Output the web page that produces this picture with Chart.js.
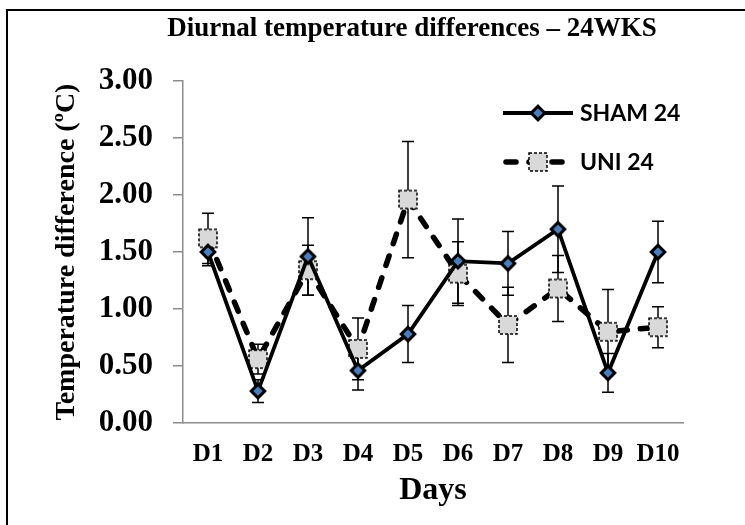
<!DOCTYPE html>
<html>
<head>
<meta charset="utf-8">
<title>Diurnal temperature differences – 24WKS</title>
<script src="https://cdn.jsdelivr.net/npm/chart.js@4.4.1/dist/chart.umd.min.js"></script>
<style>
  html, body { margin: 0; padding: 0; background: #fff; }
  .chart-box { width: 745px; height: 525px; }
</style>
</head>
<body>
<div class="chart-box"><canvas id="chart"></canvas></div>
<script>
const days = ["D1", "D2", "D3", "D4", "D5", "D6", "D7", "D8", "D9", "D10"];

const sham24 = [1.50, 0.28, 1.46, 0.46, 0.78, 1.42, 1.40, 1.70, 0.44, 1.50];
const sham24Err = [0.12, 0.10, 0.34, 0.17, 0.25, 0.37, 0.28, 0.38, 0.17, 0.27];

const uni24 = [1.62, 0.56, 1.34, 0.65, 1.96, 1.31, 0.86, 1.18, 0.80, 0.84];
const uni24Err = [0.22, 0.13, 0.22, 0.27, 0.51, 0.28, 0.33, 0.29, 0.37, 0.18];

const yTicks = [0, 0.5, 1, 1.5, 2, 2.5, 3];

const serif = "'Liberation Serif', 'Times New Roman', serif";

// Excel-like markers, drawn once and reused as point styles
function makeDiamond() {
    const c = document.createElement('canvas');
    c.width = c.height = 20;
    const g = c.getContext('2d');
    g.beginPath();
    g.moveTo(10, 3.2);
    g.lineTo(16.8, 10);
    g.lineTo(10, 16.8);
    g.lineTo(3.2, 10);
    g.closePath();
    g.fillStyle = '#4a7ebb';
    g.fill();
    g.lineWidth = 3;
    g.lineJoin = 'miter';
    g.strokeStyle = '#000';
    g.stroke();
    return c;
}

function makeSquare() {
    const c = document.createElement('canvas');
    c.width = c.height = 22;
    const g = c.getContext('2d');
    g.fillStyle = '#d9d9d9';
    g.fillRect(2, 2, 18, 18);
    g.setLineDash([3, 2]);
    g.lineWidth = 1.5;
    g.strokeStyle = '#000';
    g.strokeRect(2, 2, 18, 18);
    return c;
}

const diamond = makeDiamond();
const square = makeSquare();

// vertical error bars, under the lines and markers
const errorBars = {
    id: 'errorBars',
    beforeDatasetsDraw(chart) {
        const ctx = chart.ctx;
        const y = chart.scales.y;
        ctx.save();
        ctx.strokeStyle = '#000';
        ctx.lineWidth = 1.5;
        chart.data.datasets.forEach((ds, i) => {
            const meta = chart.getDatasetMeta(i);
            ds.errors.forEach((e, j) => {
                const x = meta.data[j].x;
                const top = y.getPixelForValue(ds.data[j] + e);
                const bottom = y.getPixelForValue(ds.data[j] - e);
                ctx.beginPath();
                ctx.moveTo(x, top);
                ctx.lineTo(x, bottom);
                ctx.moveTo(x - 6, top);
                ctx.lineTo(x + 6, top);
                ctx.moveTo(x - 6, bottom);
                ctx.lineTo(x + 6, bottom);
                ctx.stroke();
            });
        });
        ctx.restore();
    }
};

// frame, title and the line+marker legend
const decorations = {
    id: 'decorations',
    beforeDraw(chart) {
        const ctx = chart.ctx;
        ctx.save();
        ctx.strokeStyle = '#000';
        ctx.lineWidth = 2;
        ctx.strokeRect(7, 10, 760, 540);
        ctx.restore();
    },
    afterDraw(chart) {
        const ctx = chart.ctx;
        ctx.save();
        ctx.fillStyle = '#000';
        ctx.font = "bold 27px " + serif;
        ctx.textAlign = 'center';
        ctx.textBaseline = 'alphabetic';
        ctx.fillText('Diurnal temperature differences – 24WKS', 412, 36);

        chart.data.datasets.forEach((ds, i) => {
            const y = 113 + i * 49;
            ctx.save();
            ctx.strokeStyle = ds.borderColor;
            ctx.lineWidth = ds.borderWidth;
            ctx.lineCap = ds.borderCapStyle || 'butt';
            ctx.setLineDash(ds.borderDash || []);
            ctx.beginPath();
            ctx.moveTo(ds.borderDash ? 506 : 503, y);
            ctx.lineTo(ds.borderDash ? 570 : 573, y);
            ctx.stroke();
            ctx.restore();
            const img = ds.pointStyle;
            ctx.drawImage(img, 538 - img.width / 2, y - img.height / 2);
            ctx.font = "bold 23px Lato, 'Open Sans', sans-serif";
            ctx.textAlign = 'left';
            ctx.textBaseline = 'middle';
            ctx.fillText(ds.label, 580, y + 1);
        });
        ctx.restore();
    }
};

const ctx = document.getElementById('chart').getContext('2d');
const myChart = new Chart(ctx, {
    type: 'line',
    data: {
        labels: days,
        datasets: [
            {
                label: 'SHAM 24',
                data: sham24,
                errors: sham24Err,
                borderColor: '#000',
                borderWidth: 3.8,
                pointStyle: diamond,
                pointRadius: 9,
                tension: 0
            },
            {
                label: 'UNI 24',
                data: uni24,
                errors: uni24Err,
                borderColor: '#000',
                borderWidth: 5.5,
                borderDash: [10, 13],
                borderCapStyle: 'round',
                pointStyle: square,
                pointRadius: 11,
                tension: 0
            }
        ]
    },
    options: {
        responsive: true,
        maintainAspectRatio: false,
        animation: false,
        layout: { padding: { top: 81, right: 62, bottom: 0, left: 0 } },
        plugins: {
            legend: { display: false },
            title: { display: false },
            tooltip: { enabled: false }
        },
        scales: {
            x: {
                offset: true,
                grid: { display: false, drawTicks: false },
                border: { color: '#8c8c8c', width: 1.5 },
                ticks: {
                    color: '#000',
                    padding: 17,
                    font: { family: serif, size: 25, weight: 'bold' }
                },
                title: {
                    display: true,
                    text: 'Days',
                    color: '#000',
                    padding: { top: 0, bottom: 15 },
                    font: { family: serif, size: 32, weight: 'bold' }
                },
                afterFit: (scale) => { scale.height = 102; }
            },
            y: {
                min: 0,
                max: 3,
                grid: {
                    drawOnChartArea: false,
                    tickLength: 10,
                    color: '#8c8c8c',
                    lineWidth: 1.5
                },
                border: { color: '#8c8c8c', width: 1.5 },
                ticks: {
                    color: '#000',
                    padding: 20,
                    font: { family: serif, size: 31, weight: 'bold' },
                    callback: (v) => Number(v).toFixed(2)
                },
                afterBuildTicks: (scale) => {
                    scale.ticks = yTicks.map(v => ({ value: v }));
                },
                title: {
                    display: true,
                    text: 'Temperature difference (ºC)',
                    color: '#000',
                    padding: { top: 50, bottom: 0 },
                    font: { family: serif, size: 28, weight: 'bold' }
                },
                afterFit: (scale) => { scale.width = 183; }
            }
        }
    },
    plugins: [errorBars, decorations]
});
</script>
</body>
</html>
